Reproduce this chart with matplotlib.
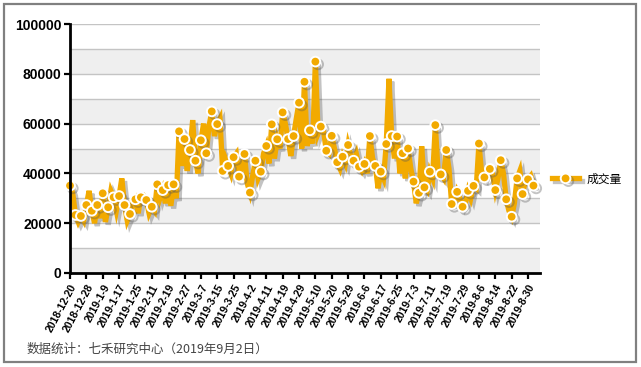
import matplotlib
matplotlib.use("Agg")
import matplotlib.pyplot as plt
import matplotlib.patheffects as pe
from matplotlib.patches import Rectangle
import numpy as np

# Marker-point values (every 2nd trading day), in thousands
marker_vals = [35.1, 23.3, 22.9, 27.3, 25.0, 27.3, 32.0, 26.4, 30.4, 30.9, 27.3, 23.7, 29.6, 30.4, 29.3,
               26.6, 35.6, 33.3, 35.3, 35.6, 56.9, 53.8, 49.4, 45.1, 53.3, 48.1, 64.9, 59.8, 41.0,
               43.0, 46.5, 38.7, 47.8, 32.3, 45.1, 40.7, 51.0, 59.7, 53.7, 64.5, 53.8, 55.0, 68.4, 76.8,
               57.3, 84.9, 58.8, 49.1, 55.1, 44.5, 46.7, 51.4, 45.1, 42.7, 43.8, 55.0, 43.0, 40.7, 51.8,
               55.0, 54.8, 48.1, 50.0, 36.7, 32.2, 34.4, 40.7, 59.4, 39.6, 49.4, 27.7, 32.6, 26.6,
               33.0, 35.0, 52.0, 38.4, 41.8, 33.3, 45.3, 29.6, 22.6, 38.0, 31.7, 37.6, 35.1]
# In-between values (odd trading days), in thousands
between_vals = [32, 20.5, 21, 33, 20, 22, 20.5, 33, 25, 38, 21, 28, 24, 31, 24,
                25, 30, 28, 27, 30, 43, 41, 61.4, 40, 60, 59, 55, 62, 46,
                40, 48, 43, 36, 39, 38, 48, 44, 46, 50, 60, 47, 62, 50, 51,
                52, 56, 57, 48, 50, 42, 44, 47, 48, 41, 40, 46, 34, 38, 78,
                46, 40, 38, 42, 28, 50.9, 33, 38, 41, 38, 42, 28, 30, 28,
                30, 34, 40, 42, 40, 38, 40, 25, 28, 41, 37, 39]

volume = []
for i, m in enumerate(marker_vals):
    volume.append(m * 1000)
    if i < len(between_vals):
        volume.append(between_vals[i] * 1000)
volume = np.array(volume)

tick_labels = ["2018-12-20", "2018-12-28", "2019-1-9", "2019-1-17", "2019-1-25", "2019-2-11",
               "2019-2-19", "2019-2-27", "2019-3-7", "2019-3-15", "2019-3-25", "2019-4-2",
               "2019-4-11", "2019-4-19", "2019-4-29", "2019-5-10", "2019-5-20", "2019-5-29",
               "2019-6-6", "2019-6-17", "2019-6-25", "2019-7-3", "2019-7-11", "2019-7-19",
               "2019-7-29", "2019-8-6", "2019-8-14", "2019-8-22", "2019-8-30"]
series_name = "成交量"
caption = "数据统计：七禾研究中心（2019年9月2日）"

W, H = 641, 367
fig = plt.figure(figsize=(W / 100, H / 100), dpi=100)
fig.patch.set_facecolor("white")

# outer frame
fig.patches.append(Rectangle((4 / W, 5 / H), 632 / W, 358 / H, transform=fig.transFigure,
                             fill=False, edgecolor="#808080", linewidth=1.6))

ax = fig.add_axes([70 / W, (H - 273) / H, 470 / W, 249 / H])
ax.set_facecolor("white")
x = np.arange(len(volume))
ax.set_xlim(0, 172.4)
ax.set_ylim(0, 100000)

# alternating bands
for k in range(0, 10, 2):
    ax.axhspan(k * 10000, (k + 1) * 10000, color="#EFEFEF", zorder=0, lw=0)
for k in range(1, 11):
    ax.axhline(k * 10000, color="#C4C4C4", lw=1.0, zorder=1)

color = "#F2AA00"
line, = ax.plot(x, volume, color=color, lw=3.8, solid_joinstyle="miter",
                marker="o", markevery=2, markersize=7, markerfacecolor=color,
                markeredgecolor="white", markeredgewidth=1.4, zorder=3, clip_on=False,
                label=series_name)
line.set_path_effects([pe.SimpleLineShadow(offset=(2, -2), shadow_color="#555555", alpha=0.35),
                       pe.Normal()])

ax.set_yticks(np.arange(0, 100001, 20000))
ax.set_yticklabels([f"{v}" for v in range(0, 100001, 20000)], fontsize=10,
                   fontweight="bold", family="Liberation Sans")
ax.set_xticks(np.arange(0, len(tick_labels) * 6, 6))
ax.set_xticklabels(tick_labels, rotation=62, ha="right", rotation_mode="anchor",
                   fontsize=7.6, fontweight="bold", family="Liberation Sans")
ax.tick_params(axis="both", direction="out", color="black", width=1.6, length=4, pad=2)
ax.tick_params(axis="x", pad=3)

for s in ["top", "right"]:
    ax.spines[s].set_visible(False)
for s in ["left", "bottom"]:
    ax.spines[s].set_color("black")
    ax.spines[s].set_linewidth(2)
    ax.spines[s].set_zorder(4)

leg = fig.legend(handles=[line], labels=[series_name], loc="center left",
                 bbox_to_anchor=(552 / W, (H - 179) / H), frameon=False,
                 borderpad=0, borderaxespad=0,
                 prop={"family": ["Noto Sans CJK SC", "DejaVu Sans"], "size": 8.5},
                 handlelength=2.3, handletextpad=0.6, markerscale=1.0)

fig.text(27 / W, (H - 349) / H, caption, ha="left", va="center", fontsize=9,
         color="#444444", family=["Noto Sans CJK SC", "DejaVu Sans"])

fig.savefig("out.png", dpi=100, facecolor="white")
